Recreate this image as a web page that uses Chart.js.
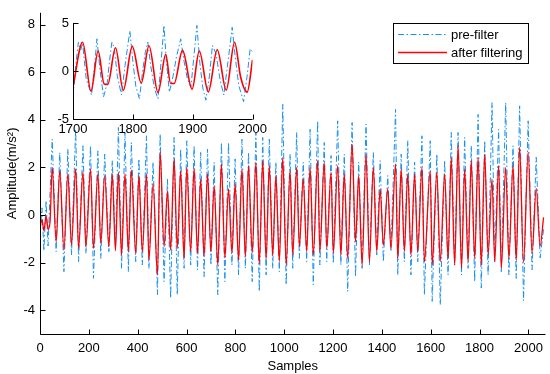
<!DOCTYPE html>
<html>
<head>
<meta charset="utf-8">
<script src="https://cdn.jsdelivr.net/npm/chart.js@4.4.1/dist/chart.umd.min.js"></script>
<style>
  body { margin: 0; background: #fff; }
  #wrap { position: relative; width: 550px; height: 374px; }
  #main { position: absolute; left: 0; top: 0; }
  #inset { position: absolute; left: 40px; top: 0; }
</style>
</head>
<body>
<div id="wrap">
  <canvas id="main" width="550" height="374"></canvas>
  <canvas id="inset" width="230" height="140"></canvas>
</div>
<script>
// main plot: first few samples before the oscillation starts
var startAt   = [0, 8, 16, 25, 33, 41];
var redStart  = [-0.55, -0.2, -0.65, -0.05, -0.6, -0.3];
var blueStart = [-0.8, 0.3, -1.5, 0.6, -1.3, 0.9];

// sample index of every crest and of the valley that follows it
var peakAt = [50,81,114,146,176,207,237,265,296,
  321,348,374,405,436,463,492,522,549,576,601,631,
  658,686,713,743,772,799,827,854,884,912,939,966,
  994,1024,1051,1078,1106,1137,1164,1192,1219,1246,1278,
  1305,1335,1365,1393,1424,1456,1479,1506,1534,1564,1598,1625,
  1657,1684,1712,1739,1766,1794,1821,1851,1878,1907,1937,
  1964,1999,2032];
var troughAt = [66,98,129,158,188,219,249,282,309,
  334,362,392,419,446,481,508,535,562,590,617,645,
  672,700,728,757,786,813,841,869,898,926,953,980,
  1008,1035,1062,1092,1119,1146,1174,1201,1232,1260,1292,
  1319,1349,1379,1406,1437,1465,1492,1519,1547,1574,1606,1639,
  1671,1698,1726,1753,1780,1807,1835,1862,1889,1920,1950,
  1980,2015,2048];

var redHigh = [2.0,1.87,1.73,1.94,1.8,1.94,1.73,1.66,1.73,
  1.8,1.73,1.9,1.66,1.73,1.31,2.65,1.0,2.35,1.87,2.0,1.97,
  1.52,1.73,1.24,2.15,1.1,1.31,1.94,2.08,2.22,2.29,2.08,1.66,
  2.42,1.87,2.0,1.52,2.0,2.29,2.22,1.8,2.08,1.73,2.98,
  1.66,2.56,2.0,1.1,1.1,2.15,1.94,1.73,1.73,2.0,1.87,1.8,
  1.73,2.42,2.91,1.94,2.29,2.42,2.56,1.52,2.08,2.0,2.08,
  2.85,2.64,1.12];
var redLow = [-1.12,-1.47,-1.26,-1.4,-1.33,-1.4,-1.19,-1.33,-1.5,
  -1.68,-1.54,-1.61,-1.54,-1.89,-2.52,-1.33,-1.47,-1.4,-1.82,-1.54,-1.6,
  -1.7,-1.55,-2.1,-1.8,-1.6,-1.9,-1.75,-1.6,-2.05,-1.85,-1.7,-1.96,
  -2.1,-1.68,-1.33,-1.54,-1.68,-1.54,-1.4,-1.61,-1.68,-1.82,-1.12,
  -2.1,-1.96,-1.54,-1.26,-1.4,-1.82,-1.54,-1.68,-1.54,-1.96,-2.1,-1.96,
  -1.82,-2.1,-2.24,-1.96,-1.82,-2.1,-1.68,-1.96,-2.24,-1.82,-1.9,
  -2.0,-1.6,-1.3];
var blueHigh = [3.19,2.63,2.77,3.6,2.91,2.91,2.7,2.56,2.29,
  3.68,3.47,3.05,2.36,3.33,2.22,3.4,1.52,3.26,2.77,3.12,2.91,
  2.63,2.77,2.22,3.05,3.05,2.36,3.19,2.63,3.47,3.26,3.19,2.22,
  4.65,2.56,3.47,2.22,3.6,3.96,3.05,2.5,3.96,2.56,3.89,
  2.22,3.82,2.63,2.29,1.66,4.44,2.56,3.12,2.22,3.33,3.12,2.56,
  2.29,3.47,3.47,3.26,2.91,4.23,3.12,4.72,3.6,4.72,2.91,
  4.59,3.96,2.43];
var blueLow = [-1.54,-2.38,-1.68,-1.96,-1.61,-2.66,-1.82,-1.54,-1.4,
  -2.24,-2.38,-1.96,-2.1,-2.24,-3.35,-2.8,-3.49,-3.35,-2.24,-2.1,-2.3,
  -2.59,-2.1,-3.35,-2.8,-2.1,-2.52,-2.24,-2.8,-3.21,-2.52,-2.24,-2.38,
  -2.93,-2.24,-1.82,-1.96,-2.93,-2.1,-1.96,-2.03,-2.1,-3.21,-2.59,
  -2.24,-2.1,-1.68,-1.96,-1.54,-2.52,-1.96,-2.52,-1.96,-3.35,-3.63,-3.77,
  -2.52,-2.1,-2.52,-2.24,-2.8,-3.07,-2.52,-1.96,-2.38,-2.52,-2.66,
  -3.6,-2.3,-1.8];
var endAt = 2062, redEnd = -0.1, blueEnd = -0.6;

// inset (samples 1700-2000)
var insetRedAt = [1700,1716,1730,1742,1752,1758,1771,1784,1799,1814,1827,1842,1855,1863,1869,1883,1899,1911,1926,1941,1956,1970,1980,1991,2000];
var insetRed   = [-1.66,3.0,-2.1,2.08,-1.35,-1.4,2.42,-2.0,2.56,-1.25,2.63,-2.25,1.73,-1.3,-1.3,2.15,-1.9,2.08,-2.18,2.21,-2.0,3.0,-0.6,-2.2,1.15];
var insetBlueAt = [1700,1705,1709,1713,1716,1722,1731,1736,1740,1745,1751,1757,1761,1765,1769,1774,1781,1787,1795,1800,1805,1811,1817,1821,1825,1830,1836,1842,1847,1852,1856,1861,1867,1873,1880,1885,1891,1897,1902,1907,1912,1917,1922,1928,1933,1939,1946,1952,1958,1962,1966,1971,1977,1985,1991,1996,2000];
var insetBlue   = [-2.7,0.8,3.0,2.2,2.9,-0.8,-2.5,0.5,3.35,0.2,-2.7,-1.3,1.0,3.0,2.4,-0.5,-2.5,0.6,4.2,1.0,-1.6,-2.9,0.3,2.0,3.0,0.5,-1.8,-2.9,0.8,4.75,1.0,-2.2,-0.6,1.5,3.35,1.2,-0.8,-1.7,1.5,4.75,0.8,-1.8,-3.05,-0.5,2.65,1.8,-1.0,-2.5,0.5,2.5,4.55,1.5,-1.5,-3.2,-0.5,2.3,2.0];

var xTicks = [0,200,400,600,800,1000,1200,1400,1600,1800,2000];
var yTicks = [-4,-2,0,2,4,6,8];
var insetXTicks = [1700,1800,1900,2000];
var insetYTicks = [-5,0,5];

var labels = ['pre-filter', 'after filtering'];
var blueColor = 'rgb(25,145,240)';
var redColor = 'rgb(255,0,0)';

function buildSeries(startY, hi, lo, endY) {
    var pts = [];
    for (var i = 0; i < startAt.length; i++) pts.push({x: startAt[i], y: startY[i]});
    for (var j = 0; j < peakAt.length; j++) {
        pts.push({x: peakAt[j], y: hi[j]});
        pts.push({x: troughAt[j], y: lo[j]});
    }
    pts.push({x: endAt, y: endY});
    return pts;
}
function pairs(xs, ys) {
    return xs.map(function (x, i) { return {x: x, y: ys[i]}; });
}
function plain(v) { return String(v); }

Chart.defaults.font.family = "'Liberation Sans', Arial, sans-serif";
Chart.defaults.font.size = 13;
Chart.defaults.color = '#000';

// left + bottom axis lines with ticks pointing inwards
var axisLines = {
    id: 'axisLines',
    afterDraw: function (chart) {
        var ctx = chart.ctx, a = chart.chartArea, xs = chart.scales.x, ys = chart.scales.y;
        var l = Math.round(a.left) + 0.5, b = Math.round(a.bottom) + 0.5;
        ctx.save();
        ctx.strokeStyle = '#000';
        ctx.lineWidth = 1;
        ctx.beginPath();
        ctx.moveTo(l, a.top);
        ctx.lineTo(l, b);
        ctx.lineTo(a.right, b);
        xs.ticks.forEach(function (t) {
            var p = Math.round(xs.getPixelForValue(t.value)) + 0.5;
            ctx.moveTo(p, b); ctx.lineTo(p, b - 5);
        });
        ys.ticks.forEach(function (t) {
            var p = Math.round(ys.getPixelForValue(t.value)) + 0.5;
            ctx.moveTo(l, p); ctx.lineTo(l + 5, p);
        });
        ctx.stroke();
        ctx.restore();
    }
};

var legendBox = {
    id: 'legendBox',
    afterDraw: function (chart) {
        var ctx = chart.ctx;
        ctx.save();
        ctx.fillStyle = '#fff';
        ctx.fillRect(393.5, 23.5, 135, 40);
        ctx.strokeStyle = '#000';
        ctx.lineWidth = 1;
        ctx.strokeRect(393.5, 23.5, 135, 40);
        chart.data.datasets.forEach(function (ds, i) {
            var y = 34.5 + i * 18;
            ctx.strokeStyle = ds.borderColor;
            ctx.lineWidth = ds.borderWidth;
            ctx.setLineDash(ds.borderDash || []);
            ctx.beginPath();
            ctx.moveTo(398, y);
            ctx.lineTo(447, y);
            ctx.stroke();
            ctx.setLineDash([]);
            ctx.fillStyle = '#000';
            ctx.font = "13px 'Liberation Sans', Arial, sans-serif";
            ctx.textBaseline = 'middle';
            ctx.fillText(ds.label, 451, y + 1);
        });
        ctx.restore();
    }
};

function setTicks(list) {
    return function (scale) {
        scale.ticks = list.map(function (v) { return {value: v}; });
    };
}

var mainChart = new Chart(document.getElementById('main'), {
    type: 'line',
    data: {
        datasets: [
            {
                label: labels[0],
                data: buildSeries(blueStart, blueHigh, blueLow, blueEnd),
                borderColor: blueColor,
                borderWidth: 1,
                borderDash: [6, 2.5, 1.5, 2.5],
                pointRadius: 0,
                tension: 0,
                order: 1
            },
            {
                label: labels[1],
                data: buildSeries(redStart, redHigh, redLow, redEnd),
                borderColor: redColor,
                borderWidth: 1.3,
                pointRadius: 0,
                cubicInterpolationMode: 'monotone',
                order: 0
            }
        ]
    },
    options: {
        responsive: false,
        animation: false,
        devicePixelRatio: 1,
        layout: {padding: {top: 10, right: 4, left: 0, bottom: 0}},
        plugins: {legend: {display: false}, tooltip: {enabled: false}},
        scales: {
            x: {
                type: 'linear',
                min: 0,
                max: 2070,
                grid: {display: false, drawTicks: false},
                border: {display: false},
                afterBuildTicks: setTicks(xTicks),
                afterFit: function (s) { s.height = 40; },
                ticks: {padding: 7, maxRotation: 0, autoSkip: false, callback: plain},
                title: {display: true, text: 'Samples', padding: {top: 0, bottom: 0}}
            },
            y: {
                min: -5,
                max: 8.5,
                grid: {display: false, drawTicks: false},
                border: {display: false},
                afterBuildTicks: setTicks(yTicks),
                afterFit: function (s) { s.width = 40; },
                ticks: {padding: 5, callback: plain},
                title: {display: true, text: 'Amplitude(m/s²)', padding: {top: 5, bottom: 0}}
            }
        }
    },
    plugins: [axisLines, legendBox]
});

var insetChart = new Chart(document.getElementById('inset'), {
    type: 'line',
    data: {
        datasets: [
            {
                label: labels[0],
                data: pairs(insetBlueAt, insetBlue),
                borderColor: blueColor,
                borderWidth: 1,
                borderDash: [6, 2.5, 1.5, 2.5],
                pointRadius: 0,
                tension: 0,
                order: 1
            },
            {
                label: labels[1],
                data: pairs(insetRedAt, insetRed),
                borderColor: redColor,
                borderWidth: 1.6,
                pointRadius: 0,
                cubicInterpolationMode: 'monotone',
                order: 0
            }
        ]
    },
    options: {
        responsive: false,
        animation: false,
        devicePixelRatio: 1,
        layout: {padding: {top: 23, right: 16, left: 0, bottom: 0}},
        plugins: {legend: {display: false}, tooltip: {enabled: false}},
        scales: {
            x: {
                type: 'linear',
                min: 1700,
                max: 2000,
                grid: {display: false, drawTicks: false},
                border: {display: false},
                afterBuildTicks: setTicks(insetXTicks),
                afterFit: function (s) { s.height = 21; },
                ticks: {padding: 3, maxRotation: 0, autoSkip: false, callback: plain}
            },
            y: {
                min: -5,
                max: 5,
                grid: {display: false, drawTicks: false},
                border: {display: false},
                afterBuildTicks: setTicks(insetYTicks),
                afterFit: function (s) { s.width = 33; },
                ticks: {padding: 4, callback: plain}
            }
        }
    },
    plugins: [axisLines]
});
</script>
</body>
</html>
